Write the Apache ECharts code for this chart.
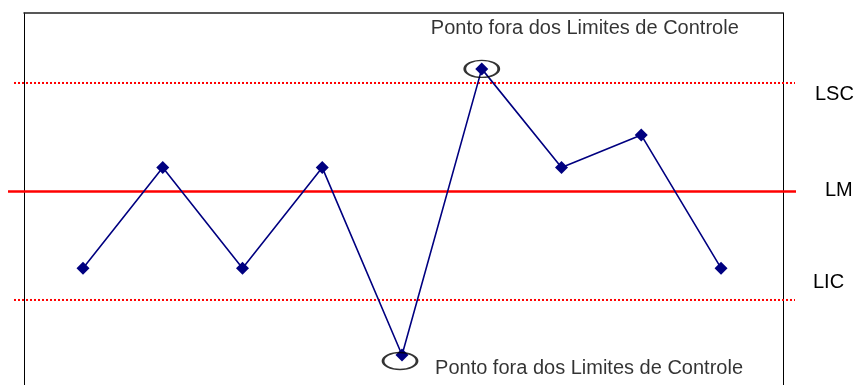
<!DOCTYPE html>
<html>
<head>
<meta charset="utf-8">
<script src="https://cdn.jsdelivr.net/npm/echarts@6/dist/echarts.min.js"></script>
<style>
html,body{margin:0;padding:0;background:#fff;}
#c{width:858px;height:385px;}
</style>
</head>
<body>
<div id="c"></div>
<script>
// ---- data ----
var samples = [1, 2, 3, 4, 5, 6, 7, 8, 9];
var values = [28.8, 56.6, 28.8, 56.6, 4.8, 83.9, 56.6, 65.6, 28.8];
var LSC = 80, LM = 50, LIC = 20;
var limitNames = ['LSC', 'LM', 'LIC'];
var noteText = 'Ponto fora dos Limites de Controle';

var FONT = '"Liberation Sans", Arial, sans-serif';
var yMin = -3.51, yMax = 99.35;

var pts = samples.map(function (s, i) { return [s, values[i]]; });
var outPts = [];
pts.forEach(function (p) {
  if (p[1] > LSC) {
    outPts.push({ value: p, symbolOffset: [0, 0],
      label: { show: true, position: 'inside', offset: [103, -40] } });
  } else if (p[1] < LIC) {
    outPts.push({ value: p, symbolOffset: [-2, 6],
      label: { show: true, position: 'inside', offset: [189, 8] } });
  }
});

function yAx(idx, showLine, pos) {
  return { gridIndex: idx, type: 'value', min: yMin, max: yMax, position: pos || 'left',
    axisLine: { show: !!showLine, onZero: false, lineStyle: { color: '#000', width: 1 } },
    axisTick: { show: false }, axisLabel: { show: false }, splitLine: { show: false } };
}
function xAx(idx, mn, mx, showLine) {
  return { gridIndex: idx, type: 'value', min: mn, max: mx, position: 'top',
    axisLine: { show: !!showLine, onZero: false, lineStyle: { color: '#222', width: 1.5 } },
    axisTick: { show: false }, axisLabel: { show: false }, splitLine: { show: false } };
}
function limitSeries(idx, name, val, lineStyle, labOff) {
  return {
    type: 'line', name: name, xAxisIndex: idx, yAxisIndex: idx,
    data: [[0, val], [1, val]], symbol: 'none', silent: true, animation: false,
    lineStyle: lineStyle, z: 1,
    endLabel: { show: true, formatter: name, offset: labOff, distance: 0,
      color: '#000', fontSize: 20, fontFamily: FONT }
  };
}

var chart = echarts.init(document.getElementById('c'), null, { renderer: 'canvas' });
chart.setOption({
  animation: false,
  backgroundColor: '#fff',
  grid: [
    { left: 24, right: 75, top: 13, bottom: 0 },
    { left: 8, right: 62, top: 13, bottom: 0 },
    { left: 14, right: 63, top: 13, bottom: 0 }
  ],
  xAxis: [xAx(0, 0.26, 9.777, true), xAx(1, 0, 1), xAx(2, 0, 1)],
  yAxis: [yAx(0, true, 'left'), yAx(1), yAx(2), yAx(0, true, 'right')],
  series: [
    limitSeries(2, limitNames[0], LSC, { color: '#ff0000', width: 2, type: [2, 2] }, [20, 12]),
    limitSeries(1, limitNames[1], LM, { color: '#ff0000', width: 2.5, type: 'solid' }, [29, -1]),
    limitSeries(2, limitNames[2], LIC, { color: '#ff0000', width: 2, type: [2, 2] }, [18, -17]),
    {
      type: 'line', xAxisIndex: 0, yAxisIndex: 0, data: pts,
      symbol: 'diamond', symbolSize: 13, showSymbol: true,
      itemStyle: { color: '#000080' },
      lineStyle: { color: '#000080', width: 1.6 }, z: 3
    },
    {
      type: 'scatter', xAxisIndex: 0, yAxisIndex: 0, data: outPts,
      symbol: 'circle', symbolSize: [34, 17], z: 4, silent: true,
      itemStyle: { color: 'transparent', borderColor: '#000', borderWidth: 2 },
      label: { formatter: noteText, color: '#000', fontSize: 20, fontFamily: FONT }
    }
  ]
});
</script>
</body>
</html>
